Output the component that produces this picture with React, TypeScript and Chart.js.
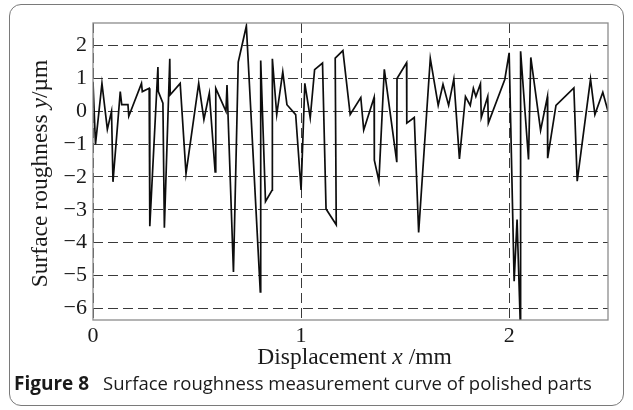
import React, { useEffect, useRef } from "react";
import { Chart, registerables } from "chart.js";

Chart.register(...registerables);

// Displacement x (mm) of each vertex of the measured profile
const xValues = [
  0.0, 0.012, 0.043, 0.069, 0.089, 0.096, 0.131, 0.138, 0.168, 0.172,
  0.233, 0.237, 0.27, 0.273, 0.312, 0.314, 0.336, 0.343, 0.369, 0.371,
  0.419, 0.447, 0.508, 0.533, 0.559, 0.587, 0.59, 0.639, 0.644, 0.675,
  0.698, 0.737, 0.804, 0.806, 0.829, 0.861, 0.862, 0.883, 0.912, 0.932,
  0.974, 1.0, 1.018, 1.044, 1.065, 1.103, 1.12, 1.169, 1.164, 1.201,
  1.236, 1.287, 1.301, 1.351, 1.352, 1.374, 1.4, 1.46, 1.461, 1.507,
  1.508, 1.544, 1.565, 1.621, 1.659, 1.682, 1.709, 1.734, 1.761, 1.79,
  1.813, 1.828, 1.84, 1.862, 1.866, 1.897, 1.9, 1.979, 2.0, 2.024,
  2.038, 2.054, 2.055, 2.093, 2.104, 2.151, 2.184, 2.185, 2.225, 2.311,
  2.327, 2.391, 2.412, 2.45, 2.475,
];

// Surface roughness y (µm) at each vertex
const yValues = [
  0.9, -1.0, 0.85, -0.55, 0.0, -2.15, 0.6, 0.2, 0.2, -0.15,
  0.85, 0.6, 0.7, -3.5, 1.35, 0.6, 0.25, -3.55, 1.6, 0.5,
  0.85, -1.9, 0.85, -0.25, 0.55, -1.85, 0.7, 0.0, 0.8, -4.9,
  1.5, 2.6, -5.5, 1.55, -2.75, -2.4, 1.6, -0.1, 1.2, 0.2,
  -0.1, -2.4, 0.85, -0.2, 1.27, 1.47, -2.98, -3.46, 1.62, 1.85,
  -0.1, 0.42, -0.57, 0.42, -1.49, -2.12, 1.28, -1.55, 1.0, 1.48,
  -0.36, -0.19, -3.69, 1.61, 0.18, 0.82, 0.18, 0.98, -1.45, 0.45,
  0.18, 0.7, 0.45, 0.84, -0.19, 0.45, -0.36, 0.97, 1.78, -5.18,
  -3.3, -6.6, 1.83, -1.47, 1.64, -0.58, 0.45, -1.43, 0.18, 0.71,
  -2.13, 0.98, -0.1, 0.58, 0.0,
];

const xTicks = [0, 1, 2];
const yTicks = [-6, -5, -4, -3, -2, -1, 0, 1, 2];
const xRange = [0, 2.475];
const yRange = [-6.36, 2.69];

const xTitleParts = [
  { text: "Displacement ", italic: false },
  { text: "x", italic: true },
  { text: " /mm", italic: false },
];
const yTitleParts = [
  { text: "Surface roughness ", italic: false },
  { text: "y", italic: true },
  { text: "/µm", italic: false },
];

const captionLabel = "Figure 8";
const captionText = "Surface roughness measurement curve of polished parts";

const SERIF = "'Liberation Serif', 'DejaVu Serif', serif";
const TICK_SIZE = 22;
const TITLE_SIZE = 23.5;

function drawParts(ctx: CanvasRenderingContext2D, parts: { text: string; italic: boolean }[], cx: number, cy: number) {
  const fontOf = (p: { italic: boolean }) => `${p.italic ? "italic " : ""}${TITLE_SIZE}px ${SERIF}`;
  let total = 0;
  const widths = parts.map((p) => {
    ctx.font = fontOf(p);
    const w = ctx.measureText(p.text).width;
    total += w;
    return w;
  });
  let x = cx - total / 2;
  ctx.textBaseline = "middle";
  ctx.textAlign = "left";
  parts.forEach((p, i) => {
    ctx.font = fontOf(p);
    ctx.fillText(p.text, x, cy);
    x += widths[i];
  });
}

const framePlugin = {
  id: "frameAndTitles",
  afterDraw(chart: any) {
    const { ctx, chartArea: a } = chart;
    ctx.save();
    ctx.setLineDash([]);
    ctx.strokeStyle = "#8c8c8c";
    ctx.lineWidth = 1.3;
    ctx.strokeRect(a.left, a.top, a.right - a.left, a.bottom - a.top);
    ctx.fillStyle = "#1a1a1a";
    drawParts(ctx, xTitleParts, (a.left + a.right) / 2 + 4, a.bottom + 38);
    ctx.translate(41, (a.top + a.bottom) / 2 + 2);
    ctx.rotate(-Math.PI / 2);
    drawParts(ctx, yTitleParts, 0, 0);
    ctx.restore();
  },
};

export default function App() {
  const canvasRef = useRef<HTMLCanvasElement | null>(null);

  useEffect(() => {
    const canvas = canvasRef.current;
    if (!canvas) return;
    const points = xValues.map((x, i) => ({ x, y: yValues[i] }));
    const chart = new Chart(canvas, {
      type: "scatter",
      data: {
        datasets: [
          {
            data: points,
            showLine: true,
            borderColor: "#0d0d0d",
            borderWidth: 1.7,
            pointRadius: 0,
            pointHoverRadius: 0,
            tension: 0,
            fill: false,
          },
        ],
      },
      options: {
        animation: false,
        responsive: false,
        events: [],
        layout: { padding: { left: 0, top: 23, right: 25, bottom: 0 } },
        plugins: {
          legend: { display: false },
          tooltip: { enabled: false },
        },
        scales: {
          x: {
            type: "linear",
            min: xRange[0],
            max: xRange[1],
            afterBuildTicks: (scale: any) => {
              scale.ticks = xTicks.map((v) => ({ value: v }));
            },
            afterFit: (scale: any) => {
              scale.height = 90;
            },
            grid: { color: "#3a3a3a", lineWidth: 1, drawTicks: false },
            border: { display: false, dash: [10, 5] },
            ticks: {
              padding: 3,
              color: "#1a1a1a",
              font: { family: SERIF, size: TICK_SIZE },
              maxRotation: 0,
              callback: (v: any) => String(v),
            },
          },
          y: {
            type: "linear",
            min: yRange[0],
            max: yRange[1],
            afterBuildTicks: (scale: any) => {
              scale.ticks = yTicks.map((v) => ({ value: v }));
            },
            afterFit: (scale: any) => {
              scale.width = 93;
            },
            grid: { color: "#3a3a3a", lineWidth: 1, drawTicks: false },
            border: { display: false, dash: [10, 5] },
            ticks: {
              padding: 6,
              color: "#1a1a1a",
              font: { family: SERIF, size: TICK_SIZE },
              callback: (v: any) => (Number(v) < 0 ? "\u2212" + Math.abs(Number(v)) : String(v)),
            },
          },
        },
      },
      plugins: [framePlugin],
    });
    return () => chart.destroy();
  }, []);

  return (
    <div style={{ position: "fixed", left: 0, top: 0, width: 633, height: 410, background: "#fff", overflow: "hidden" }}>
      <div
        style={{
          position: "absolute",
          left: 9,
          top: 4,
          width: 615,
          height: 402,
          border: "1px solid #7a7a7a",
          borderRadius: 12,
          boxSizing: "border-box",
        }}
      />
      <canvas ref={canvasRef} width={633} height={410} style={{ position: "absolute", left: 0, top: 0, width: 633, height: 410 }} />
      <div
        style={{
          position: "absolute",
          left: 14,
          top: 370,
          whiteSpace: "nowrap",
          fontFamily: "'Open Sans', 'Noto Sans', sans-serif",
          color: "#1a1a1a",
          lineHeight: "26px",
        }}
      >
        <span style={{ fontWeight: 700, fontSize: 19 }}>{captionLabel}</span>
        <span style={{ marginLeft: 14, fontSize: 18.5 }}>{captionText}</span>
      </div>
    </div>
  );
}
